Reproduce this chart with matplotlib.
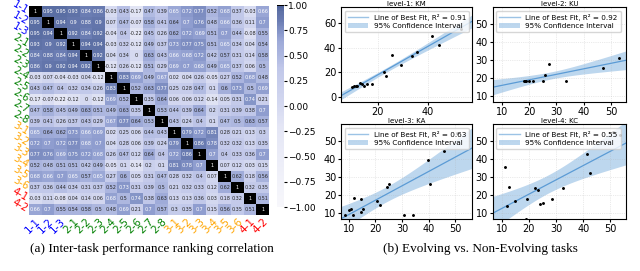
import numpy as np
import matplotlib
matplotlib.use("Agg")
import matplotlib.pyplot as plt
from matplotlib.colors import LinearSegmentedColormap, ListedColormap
from matplotlib.lines import Line2D
from matplotlib.patches import Patch
import seaborn as sns

# task labels and their group colours
task_labels = ["1-1", "1-2", "1-3",
               "2-1", "2-2", "2-3", "2-4", "2-5", "2-6", "2-7", "2-8",
               "3-1", "3-2", "3-3", "3-4", "3-5", "3-6",
               "4-1", "4-2"]
label_colors = (["blue"] * 3 + ["green"] * 8 + ["orange"] * 6 + ["red"] * 2)

corr = np.array([
    [1, 0.95, 0.95, 0.93, 0.84, 0.86, -0.03, 0.43, -0.17, 0.47, 0.39, 0.65, 0.72, 0.77, 0.52, 0.68, 0.37, -0.03, 0.66],
    [0.95, 1, 0.94, 0.9, 0.88, 0.9, 0.07, 0.47, -0.07, 0.58, 0.41, 0.64, 0.7, 0.76, 0.48, 0.66, 0.36, 0.11, 0.7],
    [0.95, 0.94, 1, 0.92, 0.84, 0.92, -0.04, 0.4, -0.22, 0.45, 0.26, 0.62, 0.72, 0.69, 0.51, 0.7, 0.44, -0.08, 0.55],
    [0.93, 0.9, 0.92, 1, 0.94, 0.94, -0.03, 0.32, -0.12, 0.49, 0.37, 0.73, 0.77, 0.75, 0.51, 0.65, 0.34, 0.04, 0.54],
    [0.84, 0.88, 0.84, 0.94, 1, 0.92, 0.04, 0.34, 0, 0.63, 0.43, 0.66, 0.68, 0.72, 0.42, 0.57, 0.31, 0.14, 0.58],
    [0.86, 0.9, 0.92, 0.94, 0.92, 1, -0.12, 0.26, -0.12, 0.51, 0.29, 0.69, 0.7, 0.68, 0.49, 0.65, 0.37, 0.06, 0.5],
    [-0.03, 0.07, -0.04, -0.03, 0.04, -0.12, 1, 0.83, 0.69, 0.49, 0.67, 0.02, 0.04, 0.26, -0.05, 0.27, 0.52, 0.68, 0.48],
    [0.43, 0.47, 0.4, 0.32, 0.34, 0.26, 0.83, 1, 0.52, 0.63, 0.77, 0.25, 0.28, 0.47, 0.1, 0.6, 0.73, 0.5, 0.69],
    [-0.17, -0.07, -0.22, -0.12, 0, -0.12, 0.69, 0.52, 1, 0.35, 0.64, 0.06, 0.06, 0.12, -0.14, 0.05, 0.31, 0.74, 0.21],
    [0.47, 0.58, 0.45, 0.49, 0.63, 0.51, 0.49, 0.63, 0.35, 1, 0.53, 0.44, 0.39, 0.64, 0.2, 0.31, 0.39, 0.38, 0.7],
    [0.39, 0.41, 0.26, 0.37, 0.43, 0.29, 0.67, 0.77, 0.64, 0.53, 1, 0.43, 0.24, 0.4, 0.1, 0.47, 0.5, 0.63, 0.57],
    [0.65, 0.64, 0.62, 0.73, 0.66, 0.69, 0.02, 0.25, 0.06, 0.44, 0.43, 1, 0.79, 0.72, 0.81, 0.28, 0.21, 0.13, 0.3],
    [0.72, 0.7, 0.72, 0.77, 0.68, 0.7, 0.04, 0.28, 0.06, 0.39, 0.24, 0.79, 1, 0.86, 0.78, 0.32, 0.32, 0.13, 0.35],
    [0.77, 0.76, 0.69, 0.75, 0.72, 0.68, 0.26, 0.47, 0.12, 0.64, 0.4, 0.72, 0.86, 1, 0.7, 0.4, 0.33, 0.36, 0.7],
    [0.52, 0.48, 0.51, 0.51, 0.42, 0.49, -0.05, 0.1, -0.14, 0.2, 0.1, 0.81, 0.78, 0.7, 1, 0.07, 0.12, 0.03, 0.15],
    [0.68, 0.66, 0.7, 0.65, 0.57, 0.65, 0.27, 0.6, 0.05, 0.31, 0.47, 0.28, 0.32, 0.4, 0.07, 1, 0.62, 0.18, 0.56],
    [0.37, 0.36, 0.44, 0.34, 0.31, 0.37, 0.52, 0.73, 0.31, 0.39, 0.5, 0.21, 0.32, 0.33, 0.12, 0.62, 1, 0.32, 0.35],
    [-0.03, 0.11, -0.08, 0.04, 0.14, 0.06, 0.68, 0.5, 0.74, 0.38, 0.63, 0.13, 0.13, 0.36, 0.03, 0.18, 0.32, 1, 0.51],
    [0.66, 0.7, 0.55, 0.54, 0.58, 0.5, 0.48, 0.69, 0.21, 0.7, 0.57, 0.3, 0.35, 0.7, 0.15, 0.56, 0.35, 0.51, 1],
])

# evolving vs non-evolving scatter data
panel_titles = ["level-1: KM", "level-2: KU", "level-3: KA", "level-4: KC"]
r2_values = [0.91, 0.92, 0.63, 0.55]

km_x = [9.5, 10.4, 11.2, 11.7, 12.8, 13.7, 14.4, 15.7, 17.7, 22.4, 23.2, 25.7, 29.5, 33.7, 35.7, 41.9, 44.4, 53.3]
km_y = [8.3, 8.6, 9.1, 9.1, 11.0, 10.2, 9.1, 10.2, 10.7, 20.1, 17.4, 33.8, 25.7, 33.0, 36.5, 49.9, 42.6, 55.8]

ku_x = [18.2, 18.5, 18.9, 20.1, 21.6, 25.2, 25.9, 27.3, 33.4, 47.0, 52.9]
ku_y = [18.7, 18.7, 18.7, 18.7, 18.7, 18.7, 22.0, 27.6, 18.7, 25.4, 31.2]

ka_x = [8.4, 10.0, 11.0, 11.6, 12.1, 14.4, 14.6, 15.4, 20.6, 21.6, 24.4, 25.0, 30.9, 34.1, 39.6, 40.4, 45.6, 50.6]
ka_y = [9.2, 11.9, 12.3, 9.2, 18.5, 10.7, 17.9, 12.5, 17.0, 14.3, 24.3, 25.9, 9.2, 9.2, 39.5, 25.9, 44.0, 53.9]

kc_x = [11.3, 11.9, 12.5, 14.7, 19.4, 18.8, 22.3, 23.5, 24.1, 25.1, 28.4, 32.4, 41.5, 42.4, 51.0, 53.7]
kc_y = [35.5, 13.8, 24.6, 17.0, 17.9, 6.9, 23.7, 22.8, 15.2, 15.9, 17.7, 23.7, 42.7, 32.2, 54.5, 53.2]

panel_x = [km_x, ku_x, ka_x, kc_x]
panel_y = [km_y, ku_y, ka_y, kc_y]
panel_xlim = [(5.3, 57.9), (6.7, 55.5), (7.1, 56.4), (6.7, 55.7)]
panel_ylim = [(-4.6, 73.4), (6.7, 59.1), (6.9, 59.0), (6.9, 59.0)]
panel_xticks = [[20, 40], [10, 20, 30, 40, 50], [10, 20, 30, 40, 50], [10, 20, 30, 40, 50]]
panel_yticks = [[0, 20, 40, 60], [10, 20, 30, 40, 50], [10, 20, 30, 40, 50], [10, 20, 30, 40, 50]]


def t_quantile(df, q=0.975):
    # numeric inverse of the student t cdf
    grid = np.linspace(0, 20, 20001)
    pdf = (1 + grid ** 2 / df) ** (-(df + 1) / 2)
    cdf = np.concatenate([[0], np.cumsum((pdf[1:] + pdf[:-1]) / 2 * np.diff(grid))])
    cdf = 0.5 + 0.5 * cdf / cdf[-1]
    return np.interp(q, cdf, grid)


def fit_with_ci(x, y, xs):
    x = np.asarray(x)
    y = np.asarray(y)
    n = len(x)
    slope, intercept = np.polyfit(x, y, 1)
    resid = y - (slope * x + intercept)
    s = np.sqrt(np.sum(resid ** 2) / (n - 2))
    sxx = np.sum((x - x.mean()) ** 2)
    yhat = slope * xs + intercept
    half = t_quantile(n - 2) * s * np.sqrt(1 / n + (xs - x.mean()) ** 2 / sxx)
    return yhat, yhat - half, yhat + half


fig = plt.figure(figsize=(6.4, 2.71), dpi=100)

# ---- (a) heatmap ----
base = LinearSegmentedColormap.from_list(
    "corr", [(0, "#f7f7fb"), (0.4, "#e4e6f5"), (0.5, "#d5d9f0"), (0.695, "#c0c7e9"),
             (0.75, "#aeb8e0"), (0.825, "#9eaad8"), (0.86, "#8c9bcd"),
             (0.925, "#6b7db3"), (0.975, "#5e71a6"), (1, "#4d6199")], N=255)
cmap = ListedColormap(list(base(np.linspace(0, 1, 255))) + [(0, 0, 0, 1)])

ax_h = fig.add_axes([0.0453, 0.2066, 0.375, 0.77])
ax_c = fig.add_axes([0.4328, 0.236, 0.011, 0.745])
sns.heatmap(corr, ax=ax_h, cbar_ax=ax_c, cmap=cmap, vmin=-1, vmax=1,
            annot=True, fmt="g", annot_kws={"fontsize": 3.5},
            xticklabels=task_labels, yticklabels=task_labels)
ax_h.tick_params(length=0, pad=1)
ax_h.set_xticklabels(task_labels, rotation=45, ha="right", rotation_mode="anchor", fontsize=7.5)
ax_h.set_yticklabels(task_labels, rotation=-30, ha="right", va="center", rotation_mode="anchor", fontsize=7.2)
for lab, col in zip(ax_h.get_xticklabels(), label_colors):
    lab.set_color(col)
for lab, col in zip(ax_h.get_yticklabels(), label_colors):
    lab.set_color(col)
ax_c.set_yticks(np.arange(-1, 1.01, 0.25))
ax_c.tick_params(labelsize=6.5, length=2, pad=1)

# ---- (b) scatter panels ----
line_color = "#5b9bd5"
positions = [[0.533, 0.622, 0.205, 0.352], [0.770, 0.622, 0.208, 0.352],
             [0.533, 0.192, 0.205, 0.350], [0.770, 0.192, 0.208, 0.350]]
for i in range(4):
    ax = fig.add_axes(positions[i])
    xs = np.linspace(panel_xlim[i][0], panel_xlim[i][1], 200)
    yhat, lo, hi = fit_with_ci(panel_x[i], panel_y[i], xs)
    ax.fill_between(xs, lo, hi, color=line_color, alpha=0.4, linewidth=0)
    ax.plot(xs, yhat, color=line_color, linewidth=0.9)
    ax.scatter(panel_x[i], panel_y[i], s=1.2, color="black", zorder=3)
    ax.set_xlim(panel_xlim[i])
    ax.set_ylim(panel_ylim[i])
    ax.set_xticks(panel_xticks[i])
    ax.set_yticks(panel_yticks[i])
    ax.tick_params(labelsize=7, length=2.5, pad=1)
    ax.grid(True, linestyle=":", linewidth=0.5, alpha=0.5)
    ax.set_title(panel_titles[i], fontsize=5, pad=1)
    handles = [Line2D([], [], color=line_color, alpha=0.6, linewidth=1),
               Patch(facecolor=line_color, alpha=0.4, edgecolor="none")]
    ax.legend(handles, ["Line of Best Fit, R\u00b2 = {}".format(r2_values[i]),
                        "95% Confidence Interval"],
              loc="upper left", fontsize=5.2, handlelength=2.8,
              borderpad=0.4, labelspacing=0.35, framealpha=0.8)

fig.text(0.237, 0.081, "(a) Inter-task performance ranking correlation",
         ha="center", va="center", fontsize=9.5, family="Liberation Serif")
fig.text(0.75, 0.081, "(b) Evolving vs. Non-Evolving tasks",
         ha="center", va="center", fontsize=9.5, family="Liberation Serif")

fig.savefig("out.png", dpi=100)
